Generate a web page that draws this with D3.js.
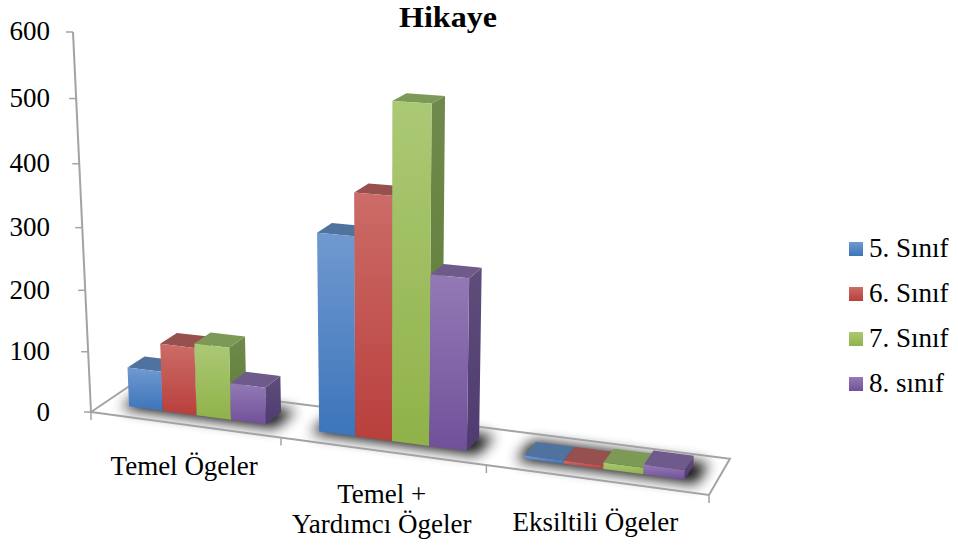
<!DOCTYPE html>
<html><head><meta charset="utf-8">
<script src="https://cdnjs.cloudflare.com/ajax/libs/d3/7.8.5/d3.min.js"></script>
<style>html,body{margin:0;padding:0;background:#fff}svg{display:block}text{font-family:"Liberation Serif",serif;fill:#000}</style>
</head><body><svg id="c" width="958" height="545"></svg>
<script>
const title = "Hikaye";
const categories = ["Temel Ögeler", "Temel +\nYardımcı Ögeler", "Eksiltili Ögeler"];
const seriesNames = ["5. Sınıf", "6. Sınıf", "7. Sınıf", "8. sınıf"];
const values5 = [65, 314, 5];
const values6 = [111, 380, 5];
const values7 = [118, 519, 10];
const values8 = [60, 267, 15];
const tickValues = [0, 100, 200, 300, 400, 500, 600];
const allValues = [values5, values6, values7, values8];

const palette = [
  {top:"#50729f", frontA:"#7099d0", frontB:"#3c75ba", sideA:"#46689a", sideB:"#345c8e"},
  {top:"#96504e", frontA:"#cc6c68", frontB:"#b93f3c", sideA:"#90413f", sideB:"#823331"},
  {top:"#7c9a56", frontA:"#abc975", frontB:"#90b249", sideA:"#6f8a4c", sideB:"#5f7c35"},
  {top:"#6f5b8b", frontA:"#937ab5", frontB:"#71509a", sideA:"#5f4d7b", sideB:"#4f3b70"}
];

// Perspective camera calibrated from the floor corners and vertical vanishing point
const FL=[91,412], FR=[709,495], BL=[134,383], persU=-0.112, persD=0.041;
const H = {
  a:FR[0]*(1+persU)-FL[0], b:BL[0]*(1+persD)-FL[0], c:FL[0],
  d:FR[1]*(1+persU)-FL[1], e:BL[1]*(1+persD)-FL[1], f:FL[1], g:persU, h:persD
};
const VP = [385, 6618], A = -0.0577;
const project = (u, d, z) => {
  const U = u/3;
  const w = H.g*U + H.h*d + 1 + A*z;
  return [(H.a*U + H.b*d + H.c + A*z*VP[0])/w, (H.d*U + H.e*d + H.f + A*z*VP[1])/w];
};

const zScale = d3.scaleLinear().domain([0,600]).range([0,1]);
const catScale = d3.scaleBand().domain(d3.range(categories.length)).range([0,3]);
const serScale = d3.scaleBand().domain(d3.range(seriesNames.length)).range([0,1]).paddingOuter(0.75);
const depth0 = 0.3, depth1 = 0.7;

const svg = d3.select("#c");
const defs = svg.append("defs");
defs.append("filter").attr("id","blur").attr("x","-30%").attr("y","-100%").attr("width","160%").attr("height","300%")
  .append("feGaussianBlur").attr("stdDeviation",7);
palette.forEach((p,i) => {
  const mk = (id,a,b) => { const g = defs.append("linearGradient").attr("id",id).attr("x1",0).attr("y1",0).attr("x2",0).attr("y2",1);
    g.append("stop").attr("offset","0%").attr("stop-color",a);
    g.append("stop").attr("offset","100%").attr("stop-color",b); };
  mk("front"+i,p.frontA,p.frontB); mk("side"+i,p.sideA,p.sideB);
});
const poly = pts => pts.map(p=>p.map(v=>v.toFixed(2)).join(",")).join(" ");
const axisColor = "#a3a3a3";

// floor
const floor = [project(0,0,0),project(3,0,0),project(3,1,0),project(0,1,0)];
svg.append("polygon").attr("points",poly(floor)).attr("fill","#fff");

// shadows
catScale.domain().forEach(c => {
  const u0 = catScale(c)+serScale(0)-0.03, u1 = catScale(c)+serScale(3)+serScale.bandwidth()+0.06;
  svg.append("polygon").attr("points",poly([project(u0,depth0-0.07,0),project(u1,depth0-0.07,0),project(u1,depth1+0.1,0),project(u0,depth1+0.1,0)]))
    .attr("fill","#000").attr("opacity",0.95).attr("filter","url(#blur)");
});

// floor outline and ticks
svg.append("polygon").attr("points",poly(floor)).attr("fill","none").attr("stroke",axisColor).attr("stroke-width",2);
d3.range(4).forEach(u => {
  const p = project(u,0,0);
  svg.append("line").attr("x1",p[0]).attr("y1",p[1]).attr("x2",p[0]).attr("y2",p[1]+8).attr("stroke",axisColor).attr("stroke-width",1.5);
});

// value axis
const a0 = project(0,0,zScale(0)), a1 = project(0,0,zScale(600));
svg.append("line").attr("x1",a0[0]).attr("y1",a0[1]).attr("x2",a1[0]).attr("y2",a1[1]).attr("stroke",axisColor).attr("stroke-width",2);
tickValues.forEach(t => {
  const p = project(0,0,zScale(t));
  svg.append("line").attr("x1",p[0]-7).attr("y1",p[1]).attr("x2",p[0]).attr("y2",p[1]).attr("stroke",axisColor).attr("stroke-width",1.5);
  svg.append("text").attr("x",50).attr("y",p[1]+8.5).attr("text-anchor","end").attr("font-size",27).text(t);
});

// bars
catScale.domain().forEach(c => {
  seriesNames.forEach((s,i) => {
    const v = zScale(allValues[i][c]);
    const u0 = catScale(c)+serScale(i), u1 = u0+serScale.bandwidth();
    const g = svg.append("g");
    g.append("polygon").attr("fill",`url(#side${i})`).attr("points",poly([project(u1,depth0,v),project(u1,depth1,v),project(u1,depth1,0),project(u1,depth0,0)]));
    g.append("polygon").attr("fill",palette[i].top).attr("points",poly([project(u0,depth0,v),project(u1,depth0,v),project(u1,depth1,v),project(u0,depth1,v)]));
    g.append("polygon").attr("fill",`url(#front${i})`).attr("points",poly([project(u0,depth0,v),project(u1,depth0,v),project(u1,depth0,0),project(u0,depth0,0)]));
  });
});

// category labels
const labelDy = [50, 52, 51];
categories.forEach((c,i) => {
  const p = project(i+0.5,0,0);
  const t = svg.append("text").attr("text-anchor","middle").attr("font-size",27);
  c.split("\n").forEach((line,k) => t.append("tspan").attr("x",p[0]).attr("y",p[1]+labelDy[i]+k*30).text(line));
});

// title
svg.append("text").attr("x",448).attr("y",26.5).attr("text-anchor","middle").attr("font-size",29.5).attr("font-weight","bold")
  .attr("textLength",98).attr("lengthAdjust","spacingAndGlyphs").text(title);

// legend
seriesNames.forEach((s,i) => {
  const y = 242+i*45;
  svg.append("rect").attr("x",849).attr("y",y).attr("width",14).attr("height",14).attr("fill",`url(#front${i})`);
  svg.append("text").attr("x",869).attr("y",y+15).attr("font-size",27).text(s);
});
</script></body></html>
